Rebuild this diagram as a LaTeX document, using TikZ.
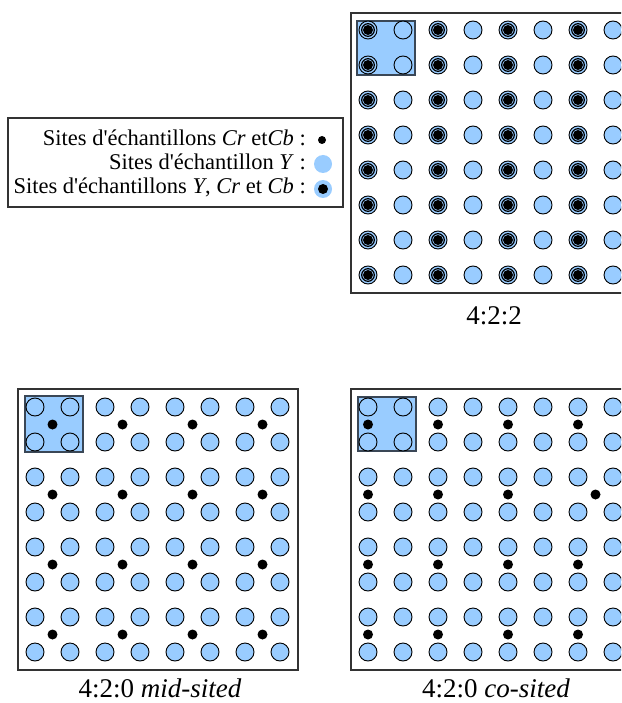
\documentclass[tikz,border=0pt]{standalone}
\usepackage{fontspec}
\setmainfont{Liberation Serif}
\usetikzlibrary{positioning}
\definecolor{luma}{HTML}{99CCFF}
\definecolor{frameink}{HTML}{333333}
\definecolor{blockink}{HTML}{3A4756}
\tikzset{
  every node/.style={font=\fontsize{22.5}{26}\selectfont,inner sep=0pt},
  panel/.style={draw=frameink,line width=1.2pt},
  block/.style={fill=luma,draw=blockink,line width=1.2pt},
  ysite/.style={draw=black,fill=luma,line width=.9pt},
  cring/.style={draw=black,line width=1.2pt},
  caption/.style={font=\fontsize{27}{32}\selectfont,anchor=base}}
\begin{document}
\begin{tikzpicture}[x=1pt,y=-1pt]
\clip (0,0) rectangle (621,703);
% legend
\draw[panel] (8,118) rectangle (343,207);
\node[anchor=base east] (lgc) at (306,146) {Sites d\textquotesingle échantillons \textit{Cr} et\textit{Cb} :};
\node[anchor=base east] (lgy) at (306,170) {Sites d\textquotesingle échantillon \textit{Y} :};
\node[anchor=base east] (lgyc) at (306,194) {Sites d\textquotesingle échantillons \textit{Y}, \textit{Cr} et \textit{Cb} :};
\fill (322,140) circle (4pt);
\fill[luma] (323,164) circle (9pt);
\fill[luma] (323,189) circle (9pt);\fill (323,189) circle (5pt);
% 4:2:2
\draw[panel] (351,13) rectangle (640,293);
\draw[block] (357,21) rectangle (415,75);
\foreach \i in {0,...,7} \foreach \j in {0,...,7} \draw[ysite] ({368+35*\i},{30+35*\j}) circle (9pt);
\foreach \i in {0,2,4,6} \foreach \j in {0,...,7} {
  \draw[cring] ({368+35*\i},{30+35*\j}) circle (6.3pt);\fill ({368+35*\i},{30+35*\j}) circle (5pt);}
\node[caption] (lbl422) at (494,324) {4:2:2};
% 4:2:0 mid-sited
\draw[panel] (18,389) rectangle (298,670);
\draw[block] (25,396) rectangle (83,452);
\foreach \i in {0,...,7} \foreach \j in {0,...,7} \draw[ysite] ({35+35*\i},{407+35*\j}) circle (9pt);
\foreach \k in {0,...,3} \foreach \m in {0,...,3} \fill ({52.5+70*\k},{424.5+70*\m}) circle (5pt);
\node[caption] (lblmid) at (160,697) {4:2:0 \textit{mid-sited}};
% 4:2:0 co-sited
\draw[panel] (351,389) rectangle (640,670);
\draw[block] (358,397) rectangle (416,451);
\foreach \i in {0,...,7} \foreach \j in {0,...,7} \draw[ysite] ({368+35*\i},{407+35*\j}) circle (9pt);
\foreach \k in {0,...,3} \foreach \m in {0,2,3} \fill ({368+70*\k},{424.5+70*\m}) circle (5pt);
\foreach \k in {0,1,2} \fill ({368+70*\k},494.5) circle (5pt);
\fill (595.5,494.5) circle (5pt);
\node[caption] (lblco) at (496,697) {4:2:0 \textit{co-sited}};
\end{tikzpicture}
\end{document}
